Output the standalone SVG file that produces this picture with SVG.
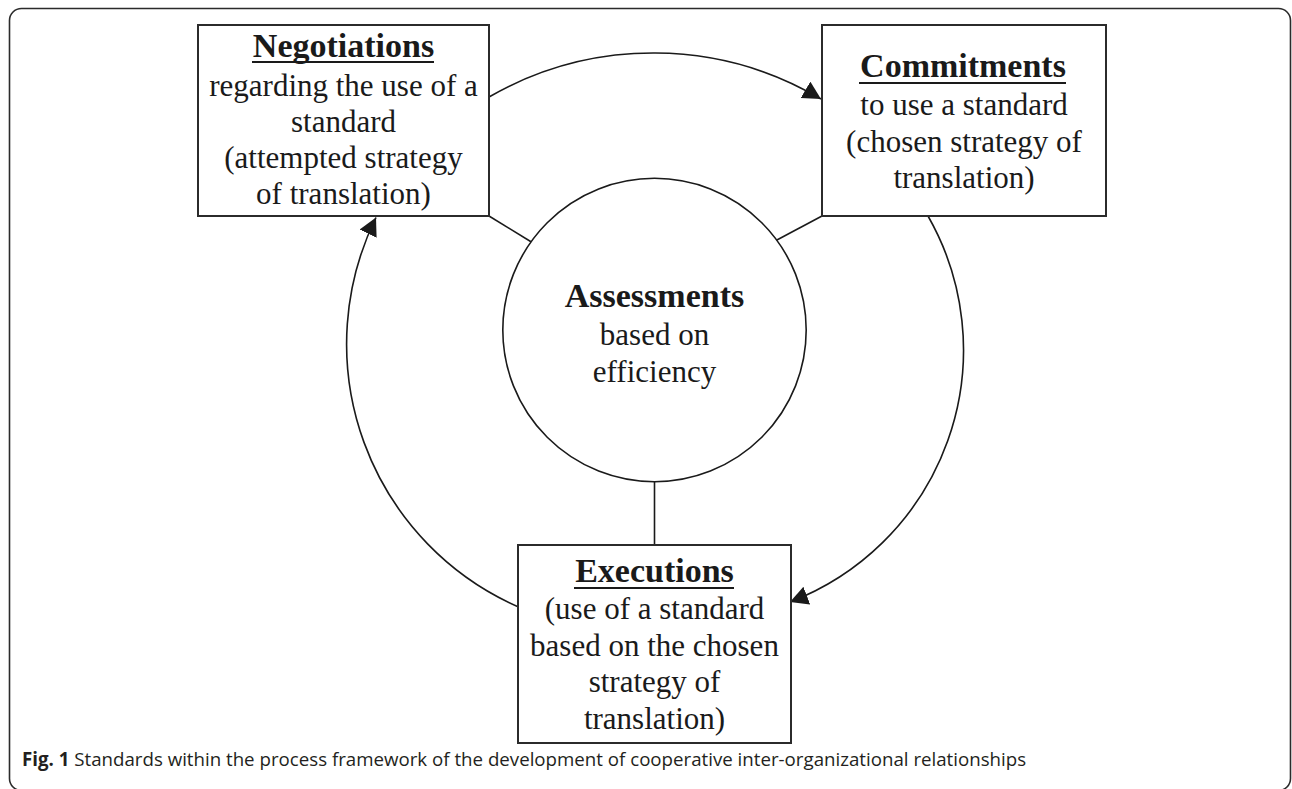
<svg xmlns="http://www.w3.org/2000/svg" width="1292" height="789" viewBox="0 0 1292 789">
<style>
.box{fill:#fff;stroke:#2b2b2b;stroke-width:2}
.circ{fill:#fff;stroke:#1a1a1a;stroke-width:1.6}
.t{font-family:"Liberation Serif","Times New Roman",serif;font-size:31px;fill:#1a1a1a;text-anchor:middle}
.b{font-family:"Liberation Serif","Times New Roman",serif;font-size:34px;font-weight:bold;fill:#1a1a1a;text-anchor:middle}
.ul{stroke:#1a1a1a;stroke-width:2.2}
.con{fill:none;stroke:#1a1a1a;stroke-width:1.6}
.cap{font-family:"Open Sans","Noto Sans",sans-serif;font-size:18.7px;fill:#231f20}
</style>
<defs>
<marker id="ah" markerUnits="userSpaceOnUse" markerWidth="20" markerHeight="20" refX="18" refY="9.5" orient="auto">
<path d="M0,0 L18,9.5 L0,19 z" fill="#1a1a1a"/>
</marker>
</defs>
<rect x="9.5" y="8.5" width="1281" height="782" rx="12" fill="none" stroke="#2b2b2b" stroke-width="1.6"/>
<g id="connectors">
<path class="con" d="M489,97 A329,329 0 0 1 821,99" marker-end="url(#ah)"/>
<path class="con" d="M928,216 A270,270 0 0 1 790,602" marker-end="url(#ah)"/>
<path class="con" d="M518,606.7 A287,287 0 0 1 376,217.5" marker-end="url(#ah)"/>
<line class="con" x1="489" y1="216" x2="531" y2="241.7"/>
<line class="con" x1="822" y1="216" x2="775" y2="241"/>
<line class="con" x1="654.5" y1="482" x2="654.5" y2="545"/>
</g>
<g id="negotiations">
<rect class="box" x="198" y="25" width="291" height="191"/>
<text class="b" x="343.5" y="57">Negotiations</text>
<line class="ul" x1="252" y1="62" x2="434" y2="62"/>
<text class="t" x="343.5" y="96">regarding the use of a</text>
<text class="t" x="343.5" y="132">standard</text>
<text class="t" x="343.5" y="168">(attempted strategy</text>
<text class="t" x="343.5" y="204">of translation)</text>
</g>
<g id="commitments">
<rect class="box" x="822" y="25" width="284" height="191"/>
<text class="b" x="963" y="77">Commitments</text>
<line class="ul" x1="859" y1="83" x2="1066" y2="83"/>
<text class="t" x="964" y="115">to use a standard</text>
<text class="t" x="964" y="152">(chosen strategy of</text>
<text class="t" x="964" y="188">translation)</text>
</g>
<g id="executions">
<rect class="box" x="518" y="545" width="273" height="198"/>
<text class="b" x="654.5" y="582">Executions</text>
<line class="ul" x1="574" y1="588" x2="734" y2="588"/>
<text class="t" x="654.5" y="619">(use of a standard</text>
<text class="t" x="654.5" y="656">based on the chosen</text>
<text class="t" x="654.5" y="692">strategy of</text>
<text class="t" x="654.5" y="729">translation)</text>
</g>
<g id="assessments">
<circle class="circ" cx="654.5" cy="330" r="151.7"/>
<text class="b" x="654.5" y="307">Assessments</text>
<text class="t" x="654.5" y="345">based on</text>
<text class="t" x="654.5" y="382">efficiency</text>
</g>
<g id="caption">
<text class="cap" x="22" y="766"><tspan font-weight="bold">Fig. 1</tspan> Standards within the process framework of the development of cooperative inter-organizational relationships</text>
</g>
</svg>
